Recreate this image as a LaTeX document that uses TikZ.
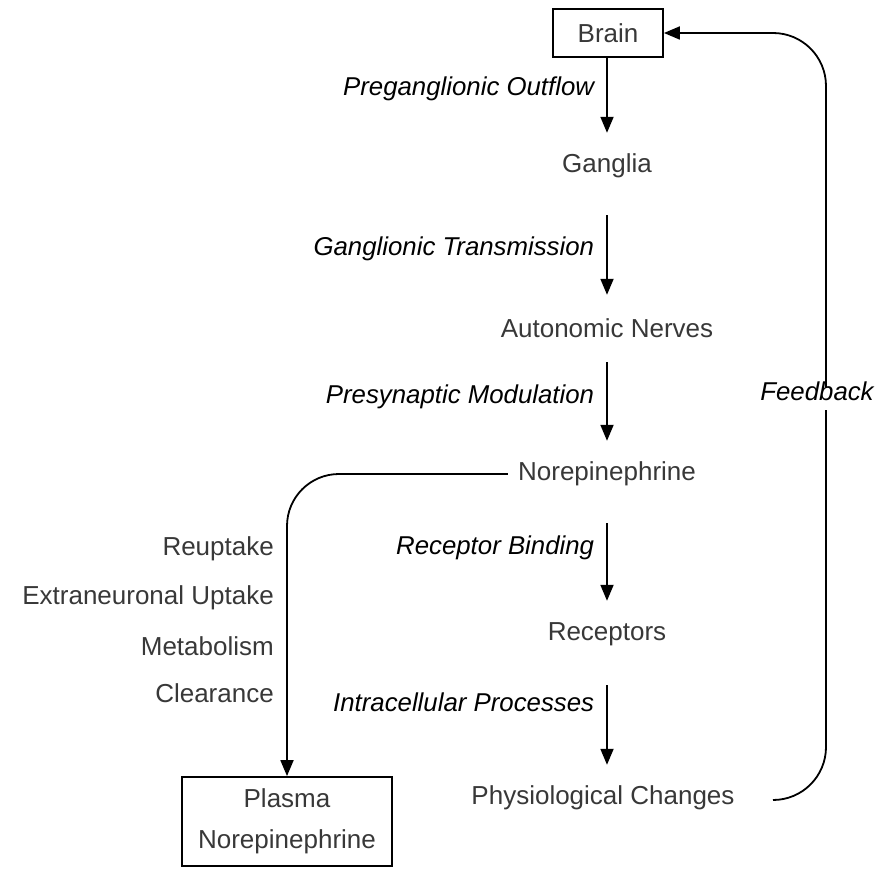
\documentclass[tikz,border=0pt]{standalone}
\usepackage{fontspec}
\setmainfont{Liberation Sans}
\usetikzlibrary{arrows.meta}
\definecolor{nodetext}{HTML}{383838}
\tikzset{
  every picture/.style={x=1pt,y=-1pt},
  stage/.style={font=\fontsize{26}{41}\selectfont, text=nodetext, inner ysep=0pt,
                inner xsep=10pt, minimum height=66pt, anchor=center},
  boxed/.style={draw, line width=1.8pt, font=\fontsize{26}{41}\selectfont, text=nodetext,
                align=center, inner sep=0pt},
  edgetext/.style={font=\fontsize{25.8}{30}\selectfont\itshape, inner sep=0pt,
                   text height=0.75em, text depth=0.25em, anchor=east, xshift=-12pt},
  sidetext/.style={font=\fontsize{26}{30}\selectfont, text=nodetext, inner sep=0pt,
                   text height=0.75em, text depth=0.25em, anchor=east},
  flow/.style={line width=1.8pt, -{Triangle[width=13pt,length=16pt]}},
}
\begin{document}
\begin{tikzpicture}
\useasboundingbox (0,0) rectangle (880,880);

% main chain
\node[boxed, minimum width=110pt, minimum height=48pt] (brain) at (608,33) {Brain};
\node[stage] (ganglia) at (607,166) {Ganglia};
\node[stage] (nerves) at (607,328) {Autonomic Nerves};
\node[stage] (norepi) at (607,474) {Norepinephrine};
\node[stage] (receptors) at (607,634) {Receptors};
\node[stage] (physio) at (603,798) {Physiological Changes};
\node[boxed, minimum width=210pt, minimum height=89pt] (plasma) at (287,821.5)
  {Plasma\\Norepinephrine};

\draw[flow] (ganglia.north |- brain.south) -- node[edgetext, pos=0.47] {Preganglionic Outflow} (ganglia.north);
\draw[flow, shorten <=16pt] (ganglia.south) -- node[edgetext, pos=0.56] {Ganglionic Transmission} (nerves.north);
\draw[flow, shorten <=1pt] (nerves.south) -- node[edgetext, pos=0.5] {Presynaptic Modulation} (norepi.north);
\draw[flow, shorten <=16pt] (norepi.south) -- node[edgetext, pos=0.48] {Receptor Binding} (receptors.north);
\draw[flow, shorten <=18pt] (receptors.south) -- node[edgetext, pos=0.43] {Intracellular Processes} (receptors.south |- physio.north);

% clearance branch
\draw[flow, rounded corners=52pt] (norepi.west) -| (plasma.north);
\node[sidetext] (reuptake) at (274,553) {Reuptake};
\node[sidetext] (extra) at (274,602) {Extraneuronal Uptake};
\node[sidetext] (metab) at (274,653) {Metabolism};
\node[sidetext] (clear) at (274,700) {Clearance};

% feedback loop
\coordinate (fbstart) at (773,800);
\coordinate (fbtop) at (826,33);
\draw[flow, rounded corners=53pt] (fbstart) -| (fbtop) -- (brain.east);
\node[font=\fontsize{25.8}{30}\selectfont\itshape, fill=white, inner xsep=2pt, inner ysep=6.5pt,
      text height=0.75em, text depth=0.25em] (fblabel) at (817,398) {Feedback};
\end{tikzpicture}
\end{document}
